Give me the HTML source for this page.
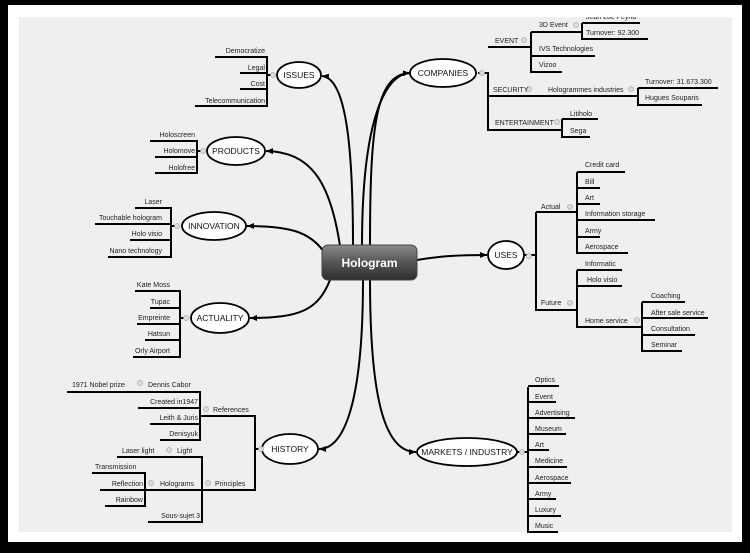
<!DOCTYPE html>
<html><head><meta charset="utf-8"><style>
html,body{margin:0;padding:0;background:#000;}
svg{display:block}
text{font-family:"Liberation Sans",sans-serif;font-size:7px;fill:#222}
.n{font-size:8.5px;fill:#111}
</style></head><body>
<svg width="750" height="553" viewBox="0 0 750 553" xmlns="http://www.w3.org/2000/svg">
<defs>
<linearGradient id="g" x1="0" y1="0" x2="0" y2="1"><stop offset="0" stop-color="#8a8a8a"/><stop offset="0.5" stop-color="#555"/><stop offset="1" stop-color="#2e2e2e"/></linearGradient>
<marker id="a" markerWidth="8" markerHeight="8" refX="7" refY="4" orient="auto" markerUnits="userSpaceOnUse"><path d="M0,1 L7,4 L0,7 Z" fill="#000"/></marker>
</defs>
<rect x="0" y="0" width="750" height="553" fill="#000"/>
<rect x="8" y="5" width="734" height="537" fill="#fff"/>
<rect x="19" y="17" width="713" height="515" fill="#efefef"/>
<rect x="8" y="5" width="734" height="12" fill="#fff"/>

<g fill="none" stroke="#000" stroke-width="2">
<path d="M353,246 C353,140 345,78 322,76" marker-end="url(#a)"/>
<path d="M340,246 C330,180 310,152 266,151" marker-end="url(#a)"/>
<path d="M324,252 C310,232 290,226 247,226" marker-end="url(#a)"/>
<path d="M330,280 C318,310 300,318 250,318" marker-end="url(#a)"/>
<path d="M363,280 C363,400 345,449 319,449" marker-end="url(#a)"/>
<path d="M362,246 C362,120 385,74 410,73" marker-end="url(#a)"/>
<path d="M370,246 C370,130 375,74 410,73"/>
<path d="M417,260 C440,256 460,255 487,255" marker-end="url(#a)"/>
<path d="M370,280 C370,400 385,452 416,452" marker-end="url(#a)"/>
</g>
<rect x="322" y="245" width="95" height="35" rx="6" fill="url(#g)" stroke="#444"/>
<text x="369.5" y="267" text-anchor="middle" style="font-size:12px;font-weight:bold;fill:#fff">Hologram</text>

<g fill="#fff" stroke="#000" stroke-width="1.8">
<ellipse cx="299" cy="75" rx="22" ry="13"/>
<ellipse cx="236" cy="151" rx="29" ry="14"/>
<ellipse cx="214" cy="226" rx="32" ry="14"/>
<ellipse cx="220" cy="318" rx="29" ry="15"/>
<ellipse cx="290" cy="449" rx="28" ry="15"/>
<ellipse cx="443" cy="73" rx="33" ry="14"/>
<ellipse cx="506" cy="255" rx="18" ry="14"/>
<ellipse cx="467" cy="452" rx="50" ry="14"/>
</g>
<text class="n" x="299" y="78" text-anchor="middle">ISSUES</text>
<text class="n" x="236" y="154" text-anchor="middle">PRODUCTS</text>
<text class="n" x="214" y="229" text-anchor="middle">INNOVATION</text>
<text class="n" x="220" y="321" text-anchor="middle">ACTUALITY</text>
<text class="n" x="290" y="452" text-anchor="middle">HISTORY</text>
<text class="n" x="443" y="76" text-anchor="middle">COMPANIES</text>
<text class="n" x="506" y="258" text-anchor="middle">USES</text>
<text class="n" x="467" y="455" text-anchor="middle">MARKETS / INDUSTRY</text>

<g fill="none" stroke="#000" stroke-width="2">
<path d="M215,57 H267 V106 H195 M240,73 H267 M240,89 H267 M267,75 H274"/>
<path d="M150,141 H197 V173 H155 M155,157 H197 M197,151 H204"/>
<path d="M135,208 H171 V257 H108 M95,224 H171 M130,240 H171 M171,226 H178"/>
<path d="M135,291 H180 V357 H133 M150,308 H180 M137,324 H180 M145,340 H180 M180,318 H187"/>
<path d="M200,416 H255 V490 H145 M255,449 H260"/>
<path d="M67,392 H200 V440 H160 M138,408 H200 M150,424 H200"/>
<path d="M117,457 H202 V522 H148"/>
<path d="M92,473 H145 V506 H105 M100,490 H145"/>
<path d="M478,73 H488 V130 H562 M488,47 H531 M488,96 H638"/>
<path d="M531,32 V72 H562 M531,32 H582 M531,56 H595"/>
<path d="M582,23 V39 H648 M582,23 H640"/>
<path d="M638,88 V105 H702 M638,88 H718"/>
<path d="M562,119 V137 H590 M562,119 H598"/>
<path d="M524,255 H536 M536,212 V310 H577 M536,212 H577"/>
<path d="M577,172 V253 H628 M577,172 H625 M577,188 H600 M577,204 H600 M577,220 H655 M577,237 H600"/>
<path d="M577,270 V327 H642 M577,270 H622 M577,286 H622"/>
<path d="M642,302 V351 H682 M642,302 H685 M642,318 H708 M642,335 H695"/>
<path d="M517,452 H528 M528,387 V532 H558 M528,386 H559 M528,402 H556 M528,418 H575 M528,434 H566 M528,450 H549 M528,467 H567 M528,483 H571 M528,499 H556 M528,516 H561"/>
</g>
<g fill="#ddd" stroke="#aaa" stroke-width="0.7">
<circle cx="273" cy="75" r="2.5"/><circle cx="203" cy="151" r="2.5"/><circle cx="177" cy="226" r="2.5"/><circle cx="186" cy="318" r="2.5"/><circle cx="261" cy="449" r="2.5"/>
<circle cx="482" cy="73" r="2.5"/><circle cx="524" cy="40" r="2.5"/><circle cx="576" cy="25" r="2.5"/><circle cx="529" cy="89" r="2.5"/><circle cx="631" cy="89" r="2.5"/><circle cx="557" cy="122" r="2.5"/>
<circle cx="529" cy="256" r="2.5"/><circle cx="570" cy="207" r="2.5"/><circle cx="570" cy="303" r="2.5"/><circle cx="637" cy="320" r="2.5"/><circle cx="522" cy="452" r="2.5"/>
<circle cx="206" cy="409" r="2.5"/><circle cx="208" cy="483" r="2.5"/><circle cx="140" cy="383" r="2.5"/><circle cx="169" cy="450" r="2.5"/><circle cx="151" cy="483" r="2.5"/>
</g>

<g text-anchor="end">
<text x="265" y="53">Democratize</text><text x="265" y="70">Legal</text><text x="265" y="86">Cost</text><text x="265" y="103">Telecommunication</text>
<text x="195" y="137">Holoscreen</text><text x="195" y="153">Holomove</text><text x="195" y="170">Holofree</text>
<text x="162" y="204">Laser</text><text x="162" y="220">Touchable hologram</text><text x="162" y="236">Holo visio</text><text x="162" y="253">Nano technology</text>
<text x="170" y="287">Kate Moss</text><text x="170" y="304">Tupac</text><text x="170" y="320">Empreinte</text><text x="170" y="336">Hatsun</text><text x="170" y="353">Orly Airport</text>
<text x="198" y="404">Created in1947</text><text x="198" y="420">Leith &amp; Juris</text><text x="198" y="436">Denisyuk</text>
<text x="200" y="518">Sous-sujet  3</text><text x="143" y="486">Reflection</text><text x="143" y="502">Rainbow</text>
</g>
<text x="72" y="387">1971 Nobel prize</text><text x="148" y="387">Dennis Cabor</text>
<text x="213" y="412">References</text><text x="215" y="486">Principles</text>
<text x="122" y="453">Laser light</text><text x="177" y="453">Light</text>
<text x="95" y="469">Transmission</text><text x="160" y="486">Holograms</text>

<text x="495" y="43">EVENT</text><text x="539" y="27">3D Event</text><text x="586" y="19">Jean Luc Peyrid</text>
<text x="586" y="35">Turnover: 92.300</text><text x="539" y="51">IVS Technologies</text><text x="539" y="67">Vizoo</text>
<text x="493" y="92">SECURITY</text><text x="548" y="92">Hologrammes industries</text>
<text x="645" y="84">Turnover: 31.673.300</text><text x="645" y="100">Hugues Souparis</text>
<text x="495" y="125">ENTERTAINMENT</text><text x="570" y="116">Litiholo</text><text x="570" y="133">Sega</text>
<text x="541" y="209">Actual</text><text x="541" y="305">Future</text>
<text x="585" y="167">Credit card</text><text x="585" y="184">Bill</text><text x="585" y="200">Art</text><text x="585" y="216">Information storage</text><text x="585" y="233">Army</text><text x="585" y="249">Aerospace</text>
<text x="585" y="266">Informatic</text><text x="587" y="282">Holo visio</text><text x="585" y="323">Home service</text>
<text x="651" y="298">Coaching</text><text x="651" y="315">After sale service</text><text x="651" y="331">Consultation</text><text x="651" y="347">Seminar</text>
<text x="535" y="382">Optics</text><text x="535" y="399">Event</text><text x="535" y="415">Advertising</text><text x="535" y="431">Museum</text><text x="535" y="447">Art</text><text x="535" y="463">Medicine</text><text x="535" y="480">Aerospace</text><text x="535" y="496">Army</text><text x="535" y="512">Luxury</text><text x="535" y="528">Music</text>
<rect x="560" y="5" width="182" height="12" fill="#fff"/>
</svg>
</body></html>
